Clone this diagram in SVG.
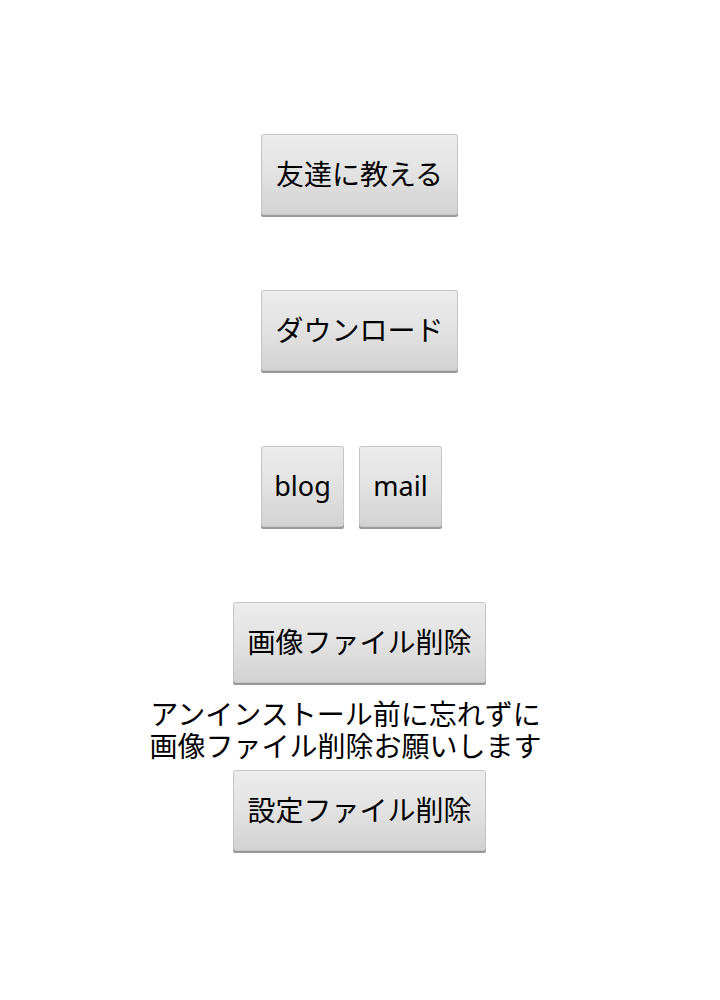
<svg xmlns="http://www.w3.org/2000/svg" width="720" height="1000" viewBox="0 0 720 1000">
<defs>
<linearGradient id="btn" x1="0" y1="0" x2="0" y2="1">
<stop offset="0" stop-color="#ececec"/>
<stop offset="0.5" stop-color="#e2e2e2"/>
<stop offset="1" stop-color="#d2d2d2"/>
</linearGradient>
</defs>
<style>
.b{fill:url(#btn);stroke:#c4c4c4;stroke-width:1}
.sh{fill:#9a9a9a}
.t{font-family:"Noto Sans","Noto Sans CJK JP",sans-serif;font-size:28px;fill:#000;text-anchor:middle}
.l{font-family:"Noto Sans","Noto Sans CJK JP",sans-serif;font-size:27px;fill:#000;text-anchor:middle}
.m{font-family:"Noto Sans","Noto Sans CJK JP",sans-serif;font-size:28px;fill:#000;text-anchor:middle}
</style>
<rect width="720" height="1000" fill="#ffffff"/>
<g id="n1">
<rect class="sh" x="261" y="136" width="197" height="81" rx="2"/>
<rect class="b" x="261.5" y="134.5" width="196" height="80" rx="2"/>
<text class="t" x="359.5" y="185">友達に教える</text>
</g>
<g id="n2">
<rect class="sh" x="261" y="292" width="197" height="81" rx="2"/>
<rect class="b" x="261.5" y="290.5" width="196" height="80" rx="2"/>
<text class="t" x="359.5" y="341">ダウンロード</text>
</g>
<g id="n3">
<rect class="sh" x="261" y="448" width="83" height="81" rx="2"/>
<rect class="b" x="261.5" y="446.5" width="82" height="80" rx="2"/>
<text class="l" x="302.5" y="496">blog</text>
</g>
<g id="n4">
<rect class="sh" x="359" y="448" width="83" height="81" rx="2"/>
<rect class="b" x="359.5" y="446.5" width="82" height="80" rx="2"/>
<text class="l" x="400.5" y="496">mail</text>
</g>
<g id="n5">
<rect class="sh" x="233" y="604" width="253" height="81" rx="2"/>
<rect class="b" x="233.5" y="602.5" width="252" height="80" rx="2"/>
<text class="t" x="359.5" y="653">画像ファイル削除</text>
</g>
<g id="n6">
<text class="m" x="345.5" y="725">アンインストール前に忘れずに<tspan x="345.5" dy="32">画像ファイル削除お願いします</tspan></text>
</g>
<g id="n7">
<rect class="sh" x="233" y="772" width="253" height="81" rx="2"/>
<rect class="b" x="233.5" y="770.5" width="252" height="80" rx="2"/>
<text class="t" x="359.5" y="821">設定ファイル削除</text>
</g>
<g id="connectors"/>
</svg>
